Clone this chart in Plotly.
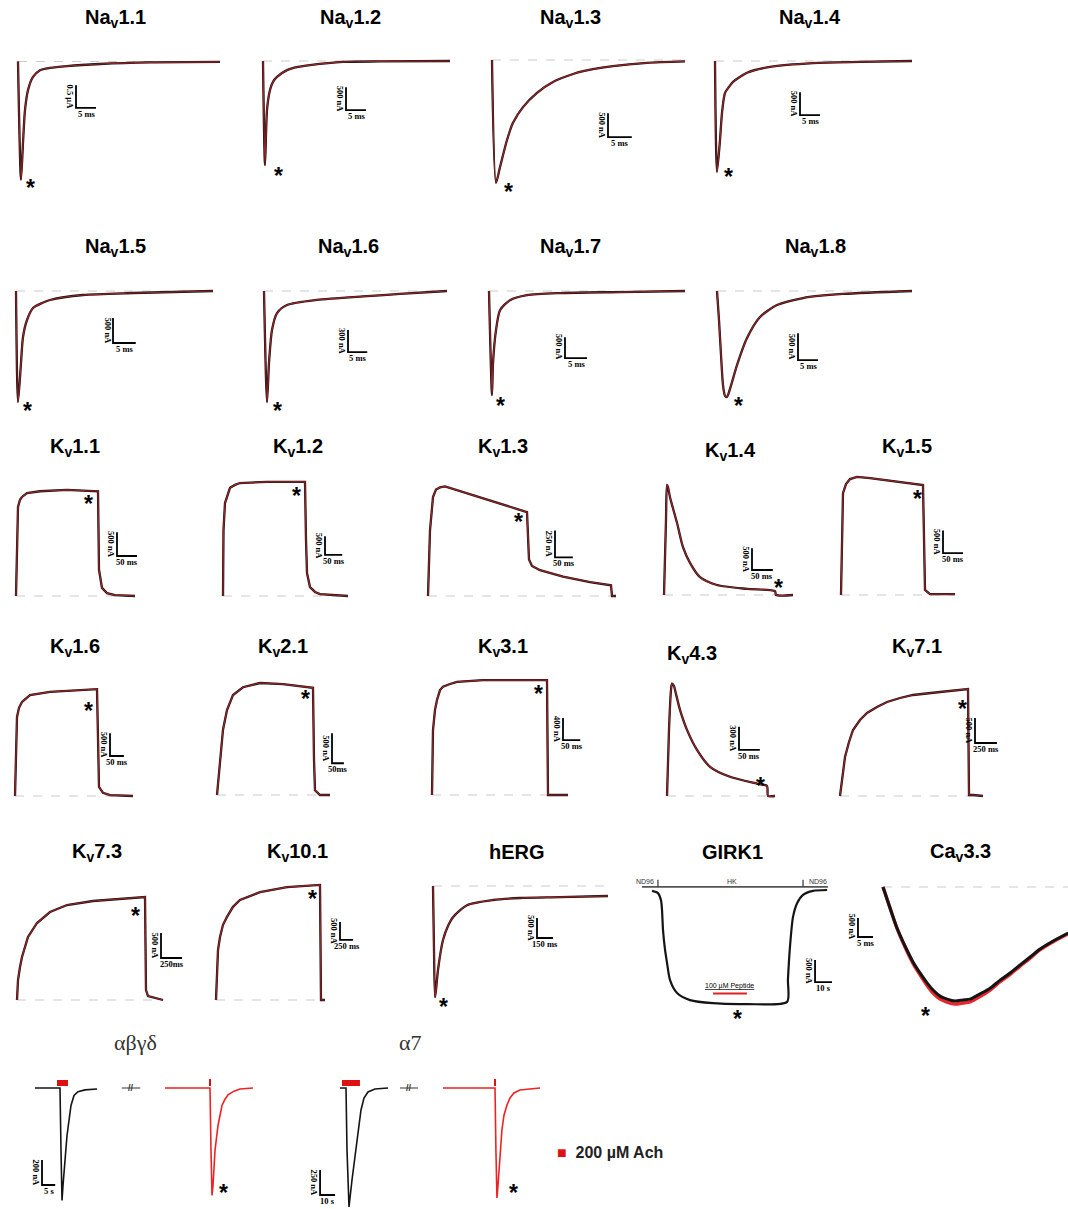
import plotly.graph_objects as go

W, H = 1068, 1209

# ---------------- data ----------------
# Na channels: time in ms, current in nA (inward negative)
nav11_t = [0, 0.75, 1.25, 1.75, 2.5, 3.75, 5.5, 8, 12.25, 20.5, 33, 50.5]
nav11_i = [0, -2600, -1790, -1070, -630, -340, -190, -140, -100, -55, -20, -10]
nav12_t = [0, 0.5, 1.0, 1.75, 2.5, 3.5, 6.0, 8.75, 11.75, 20.0, 29.25, 46.75]
nav12_i = [0, -2290, -1080, -640, -460, -350, -200, -130, -90, -20, -10, 0]
nav13_t = [0, 0.84, 1.68, 3.15, 4.41, 6.51, 9.45, 12.81, 18.48, 25.41, 32.55, 40.53]
nav13_i = [0, -2580, -2250, -1680, -1320, -990, -690, -460, -250, -130, -60, -30]
nav14_t = [0, 0.5, 1.25, 1.75, 2.5, 3.5, 4.5, 8, 13.75, 24.5, 36.25, 49.25]
nav14_i = [0, -2440, -1740, -1140, -700, -570, -460, -260, -130, -45, -20, 0]
nav15_t = [0, 0.44, 1.1, 1.54, 2.42, 3.74, 5.72, 7.48, 14.74, 25.74, 43.34]
nav15_i = [0, -2220, -1440, -920, -580, -340, -240, -180, -80, -40, 0]
nav16_t = [0, 0.78, 1.3, 2.08, 3.38, 5.98, 13.78, 26.78, 35.36, 47.58]
nav16_i = [0, -1510, -980, -530, -300, -190, -120, -70, -40, 0]
nav17_t = [0, 0.68, 0.91, 1.59, 2.5, 4.77, 8.63, 16.12, 29.74, 44.49]
nav17_i = [0, -2500, -1730, -940, -460, -220, -100, -50, -25, 0]
nav18_t = [0, 0.5, 1, 1.5, 2, 2.5, 3.25, 5, 7.5, 10.75, 15, 21.5, 31.5, 48.75]
nav18_i = [0, -540, -1180, -1740, -1940, -1960, -1810, -1370, -870, -480, -260, -130, -55, 0]

# K channels: time in ms, current in nA (outward positive)
kv11_t = [0, 2.5, 5, 10, 15, 27.5, 60, 127.5, 205, 207.5, 215, 227.5, 247.5, 297.5]
kv11_i = [0, 1390, 1870, 2020, 2080, 2160, 2200, 2230, 2200, 550, 170, 60, 20, 0]
kv12_t = [0, 1.45, 5.8, 14.5, 20.3, 34.8, 49.3, 127.6, 237.8, 240.7, 243.6, 252.3, 266.8, 281.3, 362.5]
kv12_i = [0, 1780, 2510, 2780, 2920, 3000, 3050, 3080, 3080, 1510, 620, 240, 110, 50, 0]
kv13_t = [0, 5.6, 14, 22.4, 33.6, 47.6, 277.2, 280, 282.8, 291.2, 313.6, 378, 453.6, 512.4, 515.2, 526.4]
kv13_i = [0, 610, 920, 990, 1010, 1020, 780, 520, 340, 280, 240, 180, 130, 100, 0, 0]
kv14_t = [0, 4.8, 7.2, 9.6, 14.4, 31.2, 45.6, 62.4, 86.4, 127.2, 199.2, 266.4, 268.8, 309.6]
kv14_i = [0, 1730, 2530, 2480, 2250, 1660, 1100, 740, 410, 230, 140, 90, 0, 0]
kv15_t = [0, 2.5, 5, 12.5, 22.5, 40, 72.5, 205, 207.5, 210, 222.5, 285]
kv15_i = [0, 1430, 2240, 2440, 2550, 2600, 2570, 2420, 1210, 110, 20, 20]
kv16_t = [0, 3.6, 7.2, 14.4, 25.2, 54, 126, 295.2, 298.8, 302.4, 316.8, 342, 424.8]
kv16_i = [0, 1230, 1740, 1940, 2070, 2220, 2290, 2350, 790, 200, 70, 20, 0]
kv21_t = [0, 12.6, 25.2, 42, 67.2, 109.2, 180.6, 277.2, 403.2, 407.4, 411.6, 432.6, 474.6]
kv21_i = [0, 530, 1090, 1420, 1670, 1800, 1870, 1850, 1790, 590, 80, 0, 0]
kv31_t = [0, 2.9, 8.7, 14.5, 23.2, 31.9, 52.2, 72.5, 147.9, 333.5, 336.4, 394.4]
kv31_i = [0, 1180, 1550, 1730, 1910, 1970, 2020, 2060, 2090, 2090, 0, 0]
kv43_t = [0, 4.8, 9.6, 12, 16.8, 19.2, 31.2, 48, 72, 103.2, 151.2, 216, 240, 242.4, 259.2]
kv43_i = [0, 860, 1380, 1460, 1430, 1380, 1120, 860, 600, 380, 250, 160, 130, 0, 0]
kv71_t = [0, 22.8, 57, 102.6, 148.2, 228, 307.8, 421.8, 535.8, 684, 832.2, 1140, 1459.2, 1470.6, 1516.2, 1630.2]
kv71_i = [0, 320, 780, 1080, 1320, 1520, 1660, 1780, 1880, 1960, 2020, 2080, 2140, 20, 20, 0]
kv73_t = [0, 11.9, 35.7, 59.5, 130.9, 238, 392.7, 595, 904.4, 1225.7, 1523.2, 1535.1, 1558.9, 1737.4]
kv73_i = [0, 400, 660, 860, 1260, 1540, 1760, 1900, 1980, 2020, 2060, 200, 80, 0]
kv101_t = [0, 19.2, 38.4, 76.8, 134.4, 211.2, 326.4, 460.8, 844.8, 1363.2, 1996.8, 2016, 2092.8]
kv101_i = [0, 830, 1390, 1750, 2090, 2310, 2590, 2780, 3000, 3140, 3200, 0, 0]
herg_t = [0, 9.4, 18.8, 28.2, 47, 94, 141, 188, 319.6, 564, 817.8, 1193.8, 1645]
herg_i = [0, -1600, -2780, -2600, -2100, -1350, -1000, -780, -480, -350, -300, -280, -250]

# GIRK1: time in s, current in nA
girk_t = [0, 3.5, 5.3, 5.9, 6.5, 7.7, 8.9, 10.6, 14.8, 22.4, 36, 56.1, 79.7, 80.2, 81.4, 83.2, 85.6, 89.1, 95, 103.3]
girk_i = [-20, -70, -230, -450, -910, -1360, -1660, -2040, -2340, -2500, -2570, -2590, -2540, -2040, -1290, -610, -300, -110, -20, 0]
girk_sol_t = [-5.9, 103.8]      # solution bar ND96 | HK | ND96
girk_switch_t = [3.5, 89.1]
girk_pep_t = [36, 56]           # 100 uM peptide application

# Cav3.3: time in ms, current in nA
cav_t = [0, 2.33, 4.67, 7.33, 10, 12.33, 14.67, 16.67, 19, 21.33, 24, 26.67, 29, 32.33, 35.67, 39,
         42.33, 45.67, 49, 52.33, 56.67, 61.67]
cav_ctrl = [0, -550, -1080, -1550, -1970, -2260, -2520, -2710, -2870, -2950, -3000, -2970, -2950, -2810,
            -2660, -2450, -2260, -2050, -1840, -1630, -1420, -1210]
cav_pep = [0, -550, -1090, -1580, -2010, -2310, -2590, -2790, -2950, -3030, -3080, -3050, -3020, -2880,
           -2710, -2490, -2300, -2080, -1870, -1650, -1440, -1230]

# nAChR: time in s, current in nA
abgd_ctrl_t = [0, 9.5, 9.88, 10.26, 10.64, 11.4, 12.16, 12.92, 13.68, 14.82, 16.34, 19, 23.56]
abgd_ctrl_i = [0, 0, -500, -900, -780, -580, -380, -260, -140, -60, -30, -15, -8]
abgd_pep_t = [49.4, 66.5, 66.88, 67.26, 67.64, 68.4, 69.54, 70.3, 71.06, 72.2, 73.34, 75.62, 77.9, 82.84]
abgd_pep_i = [0, 0, -500, -860, -780, -500, -300, -220, -140, -90, -55, -25, -8, 0]
abgd_ach_t = [8.36, 12.54]
abgd_ach2_t = 66.5
abgd_gap_t = [33, 40]
a7_ctrl_t = [0, 4, 4.67, 6, 8, 10, 12, 14, 16, 18.67, 23.33, 32]
a7_ctrl_i = [0, 0, -620, -1190, -920, -670, -420, -220, -100, -40, -10, 0]
a7_pep_t = [68.7, 103.4, 104, 104.7, 105.4, 106.7, 108, 109.4, 111.4, 113.4, 116, 120, 126.7, 133.4]
a7_pep_i = [0, 0, -620, -1100, -970, -720, -420, -270, -170, -100, -50, -20, -10, 0]
a7_ach_t = [1.33, 13.3]
a7_ach2_t = 103.4
a7_gap_t = [40, 52]

# ---------------- panel layout ----------------
# box = (left, top, right, bottom) px, origin = px of t=0 / I=0, scale = (time per px, nA per px)
# sbar = (t, I, dt, dI, time label, current label), star = (t, I), smooth = spline smoothing
panels = [
    dict(title="Na<sub>v</sub>1.1", tpos=(115, 18), box=(5, 35, 235, 200), origin=(18, 61.5), scale=(0.25, 22),
         data=(nav11_t, nav11_i), sbar=(14.5, -1020, 5, 500, "5 ms", "0.5 µA"), star=(3, -2700), smooth=0.7),
    dict(title="Na<sub>v</sub>1.2", tpos=(350, 18), box=(245, 35, 470, 200), origin=(263, 61), scale=(0.25, 22),
         data=(nav12_t, nav12_i), sbar=(20.75, -1080, 5, 500, "5 ms", "500 nA"), star=(3.75, -2440), smooth=0.7),
    dict(title="Na<sub>v</sub>1.3", tpos=(570, 18), box=(478, 35, 700, 200), origin=(492, 60), scale=(0.21, 21),
         data=(nav13_t, nav13_i), sbar=(24.36, -1620, 5, 500, "5 ms", "500 nA"), star=(3.36, -2690), smooth=0.7),
    dict(title="Na<sub>v</sub>1.4", tpos=(810, 18), box=(702, 35, 925, 200), origin=(715, 61), scale=(0.25, 22),
         data=(nav14_t, nav14_i), sbar=(21.25, -1190, 5, 500, "5 ms", "500 nA"), star=(3.25, -2460), smooth=0.7),
    dict(title="Na<sub>v</sub>1.5", tpos=(115, 248), box=(5, 265, 235, 425), origin=(16, 291), scale=(0.22, 20),
         data=(nav15_t, nav15_i), sbar=(21.34, -1040, 5, 500, "5 ms", "500 nA"), star=(2.42, -2320), smooth=0.7),
    dict(title="Na<sub>v</sub>1.6", tpos=(348, 248), box=(245, 265, 470, 425), origin=(264, 291), scale=(0.26, 13.6),
         data=(nav16_t, nav16_i), sbar=(21.84, -830, 5, 300, "5 ms", "300 nA"), star=(3.38, -1580), smooth=0.7),
    dict(title="Na<sub>v</sub>1.7", tpos=(570, 248), box=(478, 265, 700, 425), origin=(489, 291), scale=(0.227, 24),
         data=(nav17_t, nav17_i), sbar=(17.25, -1610, 5, 500, "5 ms", "500 nA"), star=(2.5, -2660), smooth=0.7),
    dict(title="Na<sub>v</sub>1.8", tpos=(815, 248), box=(702, 265, 925, 425), origin=(717, 291), scale=(0.25, 18.5),
         data=(nav18_t, nav18_i), sbar=(20.25, -1280, 5, 500, "5 ms", "500 nA"), star=(5.25, -2050), smooth=0.7),

    dict(title="K<sub>v</sub>1.1", tpos=(75, 448), box=(5, 465, 205, 615), origin=(16, 596), scale=(2.5, 21),
         data=(kv11_t, kv11_i), sbar=(252.5, 840, 50, 500, "50 ms", "500 nA"), star=(180, 2020), smooth=0),
    dict(title="K<sub>v</sub>1.2", tpos=(298, 448), box=(210, 465, 415, 615), origin=(223, 596), scale=(2.9, 27),
         data=(kv12_t, kv12_i), sbar=(295.8, 1110, 50, 500, "50 ms", "500 nA"), star=(211.7, 2810), smooth=0),
    dict(title="K<sub>v</sub>1.3", tpos=(503, 448), box=(418, 465, 640, 615), origin=(428, 596), scale=(2.8, 9.3),
         data=(kv13_t, kv13_i), sbar=(355.6, 360, 50, 250, "50 ms", "250 nA"), star=(252, 725), smooth=0),
    dict(title="K<sub>v</sub>1.4", tpos=(730, 451), box=(645, 465, 825, 615), origin=(664, 595), scale=(2.4, 23),
         data=(kv14_t, kv14_i), sbar=(211.2, 575, 50, 500, "50 ms", "500 nA"), star=(273.6, 250), smooth=0.7),
    dict(title="K<sub>v</sub>1.5", tpos=(907, 448), box=(830, 465, 1000, 615), origin=(841, 595), scale=(2.5, 22),
         data=(kv15_t, kv15_i), sbar=(255, 920, 50, 500, "50 ms", "500 nA"), star=(190, 2200), smooth=0),
    dict(title="K<sub>v</sub>1.6", tpos=(75, 648), box=(5, 665, 205, 815), origin=(15, 796), scale=(3.6, 22),
         data=(kv16_t, kv16_i), sbar=(342, 880, 50, 500, "50 ms", "500 nA"), star=(262.8, 1960), smooth=0),
    dict(title="K<sub>v</sub>2.1", tpos=(283, 648), box=(210, 665, 415, 815), origin=(217, 795), scale=(4.2, 16.7),
         data=(kv21_t, kv21_i), sbar=(483, 530, 50, 500, "50ms", "500 nA"), star=(369.6, 1670), smooth=0),
    dict(title="K<sub>v</sub>3.1", tpos=(503, 648), box=(418, 665, 640, 815), origin=(432, 795), scale=(2.9, 18.2),
         data=(kv31_t, kv31_i), sbar=(379.9, 1000, 50, 400, "50 ms", "400 nA"), star=(307.4, 1910), smooth=0),
    dict(title="K<sub>v</sub>4.3", tpos=(692, 654), box=(645, 665, 825, 815), origin=(667, 796), scale=(2.4, 13),
         data=(kv43_t, kv43_i), sbar=(172.8, 600, 50, 300, "50 ms", "300 nA"), star=(223.2, 180), smooth=0.7),
    dict(title="K<sub>v</sub>7.1", tpos=(917, 648), box=(830, 665, 1030, 815), origin=(840, 796), scale=(11.4, 20),
         data=(kv71_t, kv71_i), sbar=(1539, 1060, 250, 500, "250 ms", "500 nA"), star=(1390.8, 1820), smooth=0),
    dict(title="K<sub>v</sub>7.3", tpos=(97, 852), box=(5, 865, 205, 1025), origin=(17, 1000), scale=(11.9, 20),
         data=(kv73_t, kv73_i), sbar=(1713.6, 840, 250, 500, "250ms", "500 nA"), star=(1404.2, 1760), smooth=0),
    dict(title="K<sub>v</sub>10.1", tpos=(297, 852), box=(210, 865, 415, 1025), origin=(216, 1000), scale=(19.2, 27.8),
         data=(kv101_t, kv101_i), sbar=(2380.8, 1670, 250, 500, "250 ms", "500 nA"), star=(1843.2, 2920), smooth=0),
    dict(title="hERG", tpos=(517, 852), box=(418, 865, 620, 1025), origin=(433, 886), scale=(9.4, 25),
         data=(herg_t, herg_i), sbar=(977.6, -1300, 150, 500, "150 ms", "500 nA"), star=(94, -2925), smooth=0.7),
]

TRACE_BLACK = "#141414"
TRACE_RED = "#9c2326"
BASE_GREY = "#cccccc"

fig = go.Figure()
annotations = []
axes = {}


def add_axes(n, box, origin, scale):
    left, top, right, bottom = box
    x0, y0 = origin
    g, f = scale
    xk = "xaxis" if n == 1 else "xaxis%d" % n
    yk = "yaxis" if n == 1 else "yaxis%d" % n
    xr = "x" if n == 1 else "x%d" % n
    yr = "y" if n == 1 else "y%d" % n
    axes[xk] = dict(domain=[left / W, right / W], range=[(left - x0) * g, (right - x0) * g],
                    visible=False, anchor=yr, fixedrange=True)
    axes[yk] = dict(domain=[1 - bottom / H, 1 - top / H], range=[(y0 - bottom) * f, (y0 - top) * f],
                    visible=False, anchor=xr, fixedrange=True)
    return xr, yr


def line(xr, yr, x, y, color, width, dash=None, smooth=0):
    ln = dict(color=color, width=width, dash=dash)
    if smooth:
        ln.update(shape="spline", smoothing=smooth)
    fig.add_trace(go.Scatter(x=x, y=y, xaxis=xr, yaxis=yr, mode="lines", line=ln,
                             hoverinfo="skip", showlegend=False))


def note(xr, yr, x, y, text, size, family="Liberation Sans", color="black", **kw):
    annotations.append(dict(x=x, y=y, xref=xr, yref=yr, text=text, showarrow=False,
                            xanchor=kw.pop("xanchor", "center"), yanchor=kw.pop("yanchor", "middle"),
                            font=dict(family=family, size=size, color=color), **kw))


def scale_bar(xr, yr, sb):
    t, i, dt, di, tlab, ilab = sb
    line(xr, yr, [t, t, t + dt], [i + di, i, i], "black", 1.8)
    note(xr, yr, t, i + di / 2, "<b>%s</b>" % ilab, 8.5, "Liberation Serif", textangle=90, xshift=-6)
    note(xr, yr, t + dt / 2, i, "<b>%s</b>" % tlab, 8.5, "Liberation Serif", yshift=-6)


def star(xr, yr, pos, shift=-4):
    note(xr, yr, pos[0], pos[1], "<b>*</b>", 23, yshift=shift)


def title(text, pos, serif=False):
    if serif:
        note("paper", "paper", pos[0] / W, 1 - pos[1] / H, text, 22, "Liberation Serif", "#333333")
    else:
        note("paper", "paper", pos[0] / W, 1 - pos[1] / H, "<b>%s</b>" % text, 20)


n = 0
for p in panels:
    n += 1
    xr, yr = add_axes(n, p["box"], p["origin"], p["scale"])
    t, i = p["data"]
    line(xr, yr, [t[0], t[-1]], [0, 0], BASE_GREY, 1.2, "dash")
    line(xr, yr, t, i, TRACE_BLACK, 2.3, smooth=p["smooth"])
    line(xr, yr, t, i, TRACE_RED, 1.2, smooth=p["smooth"])
    scale_bar(xr, yr, p["sbar"])
    star(xr, yr, p["star"])
    title(p["title"], p["tpos"])

# GIRK1
n += 1
xr, yr = add_axes(n, (625, 865, 845, 1025), (652, 890), (0.59, 22.7))
line(xr, yr, girk_sol_t, [70, 70], "#555555", 1.6)
for ts in girk_switch_t:
    line(xr, yr, [ts, ts], [70, 230], "#333333", 1.2)
line(xr, yr, girk_t, girk_i, TRACE_BLACK, 2.2, smooth=0.7)
line(xr, yr, girk_pep_t, [-2350, -2350], "#e02020", 2)
for txt, tx in [("ND96", -4.1), ("HK", 47.2), ("ND96", 98)]:
    note(xr, yr, tx, 200, txt, 7, color="#333333")
note(xr, yr, 46, -2180, "<u>100 µM Peptide</u>", 7)
scale_bar(xr, yr, (96.2, -2090, 10, 500, "10 s", "500 nA"))
star(xr, yr, (50.7, -2840))
title("GIRK1", (732, 852))

# Cav3.3
n += 1
xr, yr = add_axes(n, (848, 865, 1068, 1025), (883, 887), (0.333, 26.3))
line(xr, yr, [cav_t[0], cav_t[-1]], [0, 0], BASE_GREY, 1.2, "dash")
line(xr, yr, cav_t, cav_pep, "#e8262b", 3.4, smooth=0.7)
line(xr, yr, cav_t, cav_ctrl, TRACE_BLACK, 3, smooth=0.7)
scale_bar(xr, yr, (-8.33, -1315, 5, 500, "5 ms", "500 nA"))
star(xr, yr, (14, -3290))
title("Ca<sub>v</sub>3.3", (960, 852))

# nAChR panels
for box, origin, scale, ctrl, pep, ach, ach2, gap, sb, st, ttl, tpos in [
    ((0, 1060, 280, 1209), (35, 1088), (0.38, 8), (abgd_ctrl_t, abgd_ctrl_i), (abgd_pep_t, abgd_pep_i),
     abgd_ach_t, abgd_ach2_t, abgd_gap_t, (2.66, -776, 5, 200, "5 s", "200 nA"), (71.8, -840), "αβγδ", (135, 1042)),
    ((290, 1060, 550, 1209), (340, 1088), (0.667, 10), (a7_ctrl_t, a7_ctrl_i), (a7_pep_t, a7_pep_i),
     a7_ach_t, a7_ach2_t, a7_gap_t, (-13.3, -1070, 10, 250, "10 s", "250 nA"), (115.4, -1050), "α7", (410, 1042)),
]:
    n += 1
    xr, yr = add_axes(n, box, origin, scale)
    f = scale[1]
    line(xr, yr, ctrl[0], ctrl[1], TRACE_BLACK, 1.6)
    line(xr, yr, pep[0], pep[1], "#ee2222", 1.6)
    line(xr, yr, ach, [5 * f, 5 * f], "#dd1111", 6)
    line(xr, yr, [ach2, ach2], [2 * f, 9 * f], "#dd1111", 2)
    line(xr, yr, gap, [0, 0], "#333333", 1)
    note(xr, yr, sum(gap) / 2, 0, "<b>//</b>", 9, color="#333333")
    scale_bar(xr, yr, sb)
    star(xr, yr, st, shift=0)
    title(ttl, tpos, serif=True)

note("paper", "paper", 555 / W, 1 - 1152 / H,
     '<span style="color:#dd1111">■</span>  <b>200 µM Ach</b>', 16, color="#222222", xanchor="left")

fig.update_layout(width=W, height=H, autosize=False, margin=dict(l=0, r=0, t=0, b=0),
                  paper_bgcolor="white", plot_bgcolor="rgba(0,0,0,0)", showlegend=False,
                  annotations=annotations, **axes)

fig.write_html("out.html", config={"displayModeBar": False},
               post_script="document.body.style.margin='0';")
